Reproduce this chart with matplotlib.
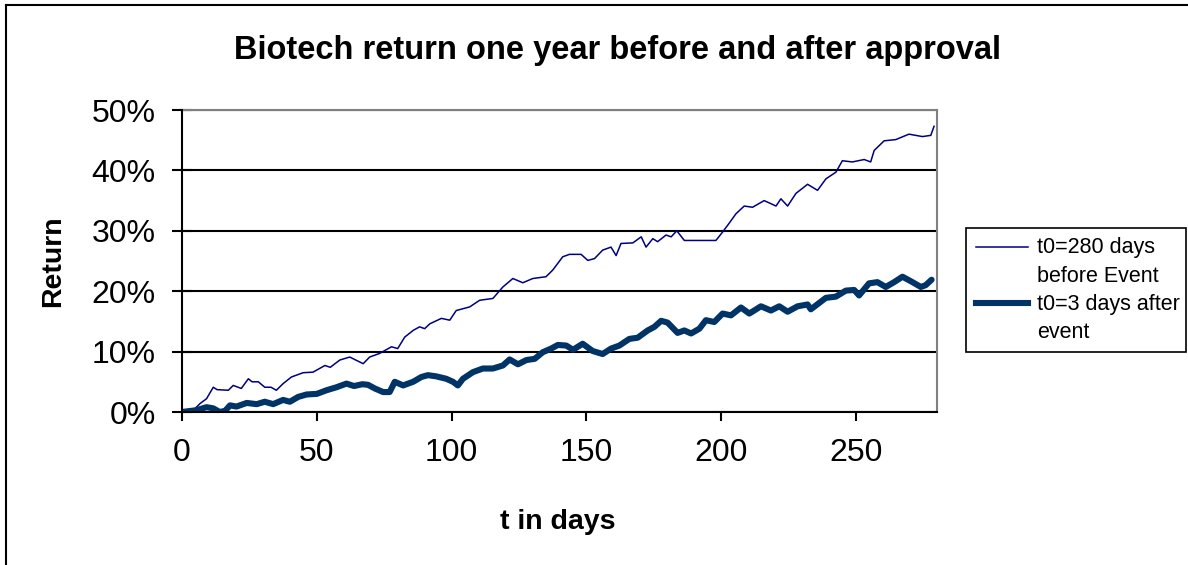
import matplotlib
matplotlib.use("Agg")
import matplotlib.pyplot as plt
from matplotlib.ticker import PercentFormatter, MultipleLocator
from matplotlib.lines import Line2D
from matplotlib.patches import Rectangle

# ---- data (returns in %) ----
before_days = [0, 4, 6.7, 9.1, 11.6, 13, 17.2, 19, 22, 24.6, 26, 28.3, 30.7, 33, 35, 37.5, 40.6,
               44.9, 48.6, 53, 55, 58.5, 62.2, 64, 67.2, 69.6, 73.3, 77.7, 80, 82.6, 85.7, 88.1,
               90, 91.9, 96.2, 99.3, 101.7, 106.7, 110.4, 115.3, 119, 122.7, 126.4, 130.1, 135,
               137.5, 141.2, 143.7, 148, 150.5, 153, 156, 159.1, 161, 162.8, 167.2, 170.3, 172.1,
               174.6, 176.4, 179.5, 181.4, 183.5, 186.3, 190.6, 198, 200.5, 203, 205.4, 208.5,
               211.6, 215.9, 220.3, 222.1, 224.6, 227.7, 232, 235.7, 238.8, 242.5, 244.9, 248.6,
               253, 255.4, 256.7, 260.4, 264.7, 269.6, 274.6, 277.7, 278.9]
before_ret = [0, 0.2, 1.4, 2.2, 4.1, 3.7, 3.6, 4.4, 3.9, 5.5, 5.0, 5.0, 4.1, 4.1, 3.6, 4.7, 5.8,
              6.5, 6.6, 7.7, 7.4, 8.6, 9.1, 8.7, 8.0, 9.1, 9.7, 10.8, 10.5, 12.4, 13.5, 14.1,
              13.8, 14.6, 15.5, 15.2, 16.8, 17.4, 18.5, 18.8, 20.7, 22.1, 21.4, 22.1, 22.4,
              23.5, 25.7, 26.1, 26.1, 25.1, 25.4, 26.8, 27.3, 25.9, 27.9, 28.0, 29.0, 27.3,
              28.7, 28.2, 29.3, 29.0, 30.0, 28.4, 28.4, 28.4, 29.8, 31.3, 32.8, 34.1,
              33.9, 35.0, 34.1, 35.3, 34.1, 36.2, 37.7, 36.7, 38.6, 39.7, 41.6, 41.4,
              41.8, 41.4, 43.3, 44.9, 45.1, 46.0, 45.6, 45.8, 47.3]

after_days = [0, 5.4, 9.1, 11.6, 14, 16, 17.8, 20.2, 24, 27.7, 30.7, 33.8, 37.5, 40, 43.1, 46.2,
              50, 53.6, 57.3, 61, 63.8, 66.9, 69, 71.5, 74.6, 77, 78.9, 82, 85.7, 88.8, 91.2,
              94.3, 98, 100.5, 102.3, 104.2, 107.9, 111.6, 115.3, 119, 121.5, 124.6, 127.7,
              130.8, 133.8, 136.9, 139.4, 142.5, 145, 148.6, 152.3, 156, 159.1, 162.2, 165.9,
              169, 172.7, 175.2, 177.7, 180.1, 183.8, 186.3, 188.8, 191.9, 194.3, 197.4, 200.5,
              203.6, 207.3, 210.4, 214.7, 218.4, 221.5, 224.6, 228.3, 232, 233.2, 238.8, 242.5,
              246.2, 249.3, 251.1, 254.8, 257.9, 261, 264.1, 267.2, 270.9, 274, 275.8, 278]
after_ret = [0, 0.3, 0.8, 0.6, 0.0, 0.2, 1.1, 0.9, 1.5, 1.3, 1.7, 1.3, 2.0, 1.7, 2.5, 2.9,
             3.0, 3.6, 4.1, 4.7, 4.3, 4.6, 4.5, 3.9, 3.3, 3.3, 5.0, 4.4, 5.0, 5.8, 6.1,
             5.9, 5.5, 5.0, 4.4, 5.5, 6.6, 7.2, 7.2, 7.7, 8.7, 7.9, 8.6,
             8.8, 9.9, 10.5, 11.1, 11.0, 10.3, 11.3, 10.1, 9.6, 10.5, 11.0, 12.1,
             12.3, 13.5, 14.1, 15.1, 14.8, 13.1, 13.5, 13.0, 13.8, 15.2, 14.9, 16.3,
             16.0, 17.3, 16.3, 17.5, 16.8, 17.5, 16.6, 17.5, 17.8, 17.0, 18.9, 19.1,
             20.1, 20.2, 19.3, 21.3, 21.5, 20.7, 21.5, 22.4, 21.5, 20.7, 21.0, 21.9]

series_labels = ["t0=280 days\nbefore Event", "t0=3 days after\nevent"]
title = "Biotech return one year before and after approval"
x_ticks = [0, 50, 100, 150, 200, 250]
y_ticks = [0, 10, 20, 30, 40, 50]

plt.rcParams['font.family'] = ['Liberation Sans', 'DejaVu Sans']

W, H = 1188, 565
fig = plt.figure(figsize=(W / 100, H / 100), dpi=100)
ax = fig.add_axes([182 / W, 1 - 412 / H, (937 - 182) / W, (412 - 110) / H])

c_thin = '#000080'
c_thick = '#003366'
ax.plot(before_days, before_ret, color=c_thin, lw=1.1, zorder=3)
ax.plot(after_days, after_ret, color=c_thick, lw=4.4, solid_joinstyle='round',
        solid_capstyle='round', zorder=3)

ax.set_xlim(0, 280)
ax.set_ylim(0, 50)
ax.set_xticks(x_ticks)
ax.set_yticks(y_ticks)
ax.yaxis.set_major_formatter(PercentFormatter(xmax=100, decimals=0))
ax.tick_params(axis='y', direction='inout', length=14, width=1.5, labelsize=23, pad=12)
ax.tick_params(axis='x', direction='out', length=6.5, width=1.5, labelsize=23, pad=12)
ax.grid(axis='y', color='black', lw=1.5, zorder=1)
ax.set_axisbelow(True)
for s in ['left', 'bottom']:
    ax.spines[s].set_color('black')
    ax.spines[s].set_linewidth(1.5)
    ax.spines[s].set_zorder(4)
for s in ['top', 'right']:
    ax.spines[s].set_color('#808080')
    ax.spines[s].set_linewidth(1.5)

fig.text(618 / W, 1 - 50 / H, title, ha='center', va='center', fontsize=23.5,
         fontweight='bold')
fig.text(53 / W, 1 - 261 / H, "Return", ha='center', va='center', rotation=90,
         fontsize=20.5, fontweight='bold')
fig.text(557.5 / W, 1 - 529 / H, "t in days", ha='center', va='baseline',
         fontsize=20.5, fontweight='bold')

# figure border (left and top visible)
fig.add_artist(Line2D([6 / W, 6 / W], [-0.1, 1 - 5 / H], transform=fig.transFigure,
                      color='black', lw=1.5))
fig.add_artist(Line2D([6 / W, 1.1], [1 - 5 / H, 1 - 5 / H], transform=fig.transFigure,
                      color='black', lw=1.5))

# legend (manual)
fig.add_artist(Rectangle((966 / W, 1 - 352 / H), (1186 - 966) / W, (352 - 228) / H,
                         transform=fig.transFigure, fill=False, edgecolor='black', lw=1.2))
fig.add_artist(Line2D([976 / W, 1028 / W], [1 - 247 / H] * 2, transform=fig.transFigure,
                      color=c_thin, lw=1.1))
fig.add_artist(Line2D([976 / W, 1028 / W], [1 - 303 / H] * 2, transform=fig.transFigure,
                      color=c_thick, lw=4.4))
lines_txt = series_labels[0].split("\n") + series_labels[1].split("\n")
baselines = [253, 282, 310, 338]
for t, b in zip(lines_txt, baselines):
    fig.text(1037 / W, 1 - b / H, t, ha='left', va='baseline', fontsize=15.5)

fig.savefig("out.png", dpi=100)
